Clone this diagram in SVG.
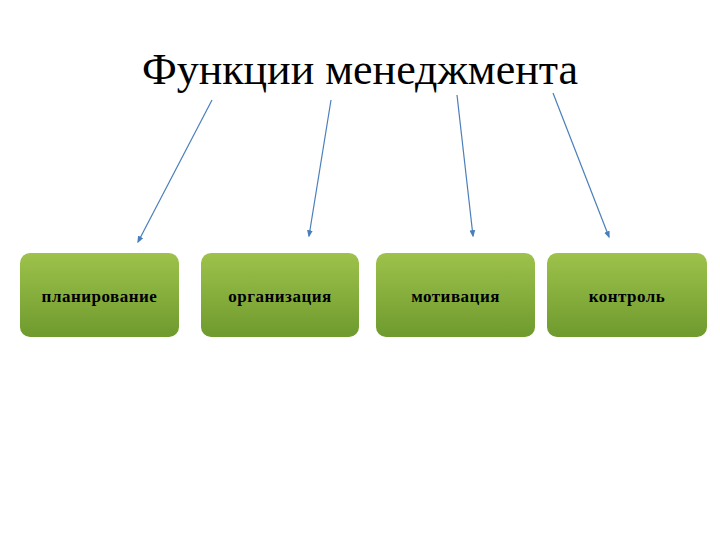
<svg xmlns="http://www.w3.org/2000/svg" width="720" height="540" viewBox="0 0 720 540">
<style>
.t{font-family:"Liberation Serif",serif;fill:#000}
.b{font-size:17px;font-weight:bold;text-anchor:middle;letter-spacing:0.5px}
.c{stroke:#4a7ebb;stroke-width:1.2;fill:none;marker-end:url(#a)}
</style>
<defs>
<linearGradient id="g" x1="0" y1="0" x2="0" y2="1"><stop offset="0" stop-color="#9ec24b"/><stop offset="1" stop-color="#6e9a2e"/></linearGradient>
<marker id="a" viewBox="0 0 10 10" refX="8" refY="5" markerWidth="6" markerHeight="6" orient="auto"><path d="M0,1L10,5L0,9z" fill="#4a7ebb"/></marker>
</defs>
<rect width="720" height="540" fill="#fff"/>
<text class="t" x="360" y="84" font-size="44" text-anchor="middle">Функции менеджмента</text>
<g id="connectors">
<line class="c" x1="212" y1="100" x2="138" y2="242"/>
<line class="c" x1="331" y1="100" x2="309" y2="236"/>
<line class="c" x1="457" y1="95" x2="473" y2="236"/>
<line class="c" x1="553" y1="93" x2="609" y2="237"/>
</g>
<g id="n1"><rect x="20" y="253" width="159" height="84" rx="10" fill="url(#g)"/><text class="t b" x="99.5" y="302">планирование</text></g>
<g id="n2"><rect x="201" y="253" width="158" height="84" rx="10" fill="url(#g)"/><text class="t b" x="280" y="302">организация</text></g>
<g id="n3"><rect x="376" y="253" width="159" height="84" rx="10" fill="url(#g)"/><text class="t b" x="455.5" y="302">мотивация</text></g>
<g id="n4"><rect x="547" y="253" width="160" height="84" rx="10" fill="url(#g)"/><text class="t b" x="627" y="302">контроль</text></g>
</svg>
